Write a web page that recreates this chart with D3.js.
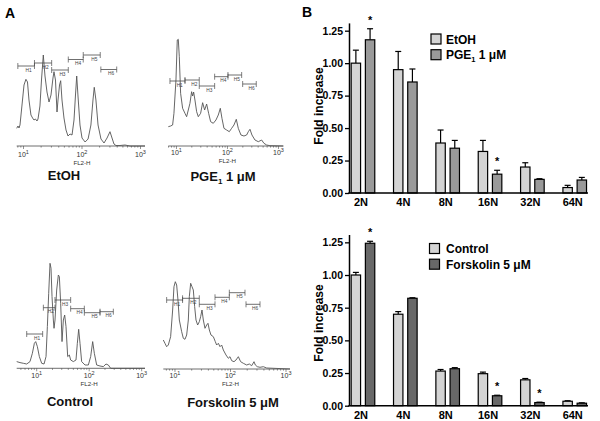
<!DOCTYPE html>
<html><head><meta charset="utf-8">
<script src="https://cdn.jsdelivr.net/npm/d3@7"></script>
<style>body{margin:0;background:#fff}svg{display:block}text{font-family:"Liberation Sans",Arial,Helvetica,sans-serif}</style>
</head><body><svg id="c" width="600" height="421"></svg>
<script>
// ---------- Panel B data ----------
const categories = ["2N","4N","8N","16N","32N","64N"];
const etohMean = [1.00,0.95,0.385,0.32,0.20,0.042];
const etohErr  = [0.10,0.14,0.10,0.085,0.033,0.017];
const pgeMean  = [1.18,0.855,0.345,0.145,0.105,0.10];
const pgeErr   = [0.085,0.10,0.06,0.03,0.005,0.02];
const pgeSig   = [true,false,false,true,false,false];
const controlMean   = [1.00,0.70,0.265,0.245,0.198,0.034];
const controlErr    = [0.02,0.02,0.012,0.012,0.01,0.004];
const forskolinMean = [1.243,0.822,0.283,0.076,0.024,0.019];
const forskolinErr  = [0.015,0.004,0.008,0.004,0.003,0.003];
const forskolinSig  = [true,false,false,true,true,false];
const yTickValues = [0,0.25,0.5,0.75,1.0,1.25];

// ---------- Panel A data (FL2-H value, relative count) ----------
const etohFL2 = [7.65,8.05,8.38,8.71,9.43,10.2,11.0,11.7,12.4,13.4,14.3,15.1,16.0,17.0,17.7,19.1,20.3,21.8,23.3,25.2,27.3,29.5,31.9,33.2,35.2,37.4,38.9,41.3,43.2,45.5,49.2,53.3,57.6,62.4,67.5,73.0,77.4,81.2,85.4,92.4,100,113,127,142,154,162,173,188,211,238,268,301,326,352,381,446,543,662,1194];
const etohCount = [17.7,20,18,21,41,61,66.7,64,46,31,28,26,27,25,27,40,66,91,70,54,44,51,68,74.3,66,34,46,61,65.3,46,28,16,10,12,11,26,51,70,50,21,8,4,7,21,46,58.7,46,21,7,3,8,14.3,8,2,0.5,0.5,1,0,0];
const pgeFL2 = [6.92,7.69,8.41,8.93,9.78,10.38,10.86,11.37,12.07,13.21,14.68,15.82,17.06,18.39,19.83,20.75,21.71,23.05,24.86,26.8,29.78,32.6,35.68,39.04,42.73,46.77,52.76,59.5,66.1,72.4,78.0,85.4,96.3,108.6,120.7,134.1,149,163.1,184,210.6,237.6,256.2,276.3,302.3,346.1,402.4,467.7,519.6,586,681.4,1244];
const pgeCount = [19.3,20,21,32.7,66,106,106.7,89.3,52.7,37.7,32.7,29.3,36,42.7,54.3,50,54,46,34.3,29.3,32.7,43.3,36,42,32.7,24.3,22.7,26,31,37.7,27.7,17.7,16,14.3,17.7,21,26.7,17.7,11,10,11,14.3,16.7,11,6,4.3,6,2.7,1,0.3,0];
const controlFL2 = [4.16,4.81,5.57,6.45,7.46,8.27,9.03,9.57,10.30,11.24,12.45,13.8,15.06,15.97,16.93,17.95,18.75,19.60,20.77,21.39,22.35,24.04,25.86,27.02,28.65,30.38,32.2,34.15,36.2,38.95,41.9,44.4,49.9,56.1,59.5,63.1,66.9,71.9,83.3,96.4,106.8,116.6,125.4,139,160.8,186.2,209.3,231.8,256.8,1158];
const controlCount = [6.7,5.7,5,4.3,6.7,15,25,26.7,21.7,11.7,5,4.3,11.7,41.7,75,105,100,71.7,48.3,40,48.3,78.3,93.3,91.7,65,26.7,48.3,53.3,41.7,11.7,13.3,8.3,6.7,8.3,25,39,25,6.7,3.3,3.3,11.7,26.7,15,3.3,2.3,1.7,4.3,3.3,0,0];
const forskFL2 = [6.16,6.60,7.08,7.58,8.35,9.08,9.59,10.14,10.72,11.32,11.97,13.19,14.13,15.14,16.23,17.39,18.13,19.16,20.25,21.4,22.62,23.9,25.61,27.44,29.0,30.65,32.4,34.72,37.2,39.3,41.6,44.5,49.1,53.3,56.3,60.4,64.7,69.3,74.3,83.0,91.4,97.9,105,115.6,125.6,138.4,152.4,170.3,195.6,218.4,240.6,265.1,280.2,304.4,340.1,390.5,448.5,1180];
const forskCount = [29,25.7,22.3,24,32.3,59,82.3,87.3,84,69,49,37.3,30.7,29.7,34,49,72.3,85.7,82.3,79,62.3,49,44,47.3,52.3,59,49,40.7,44,45.7,39,34,32.3,27.3,24,25.7,22.3,24,19,14,10.7,12.3,8.3,7.3,9,12.3,7.3,5.7,4,5,3.3,7.3,4,2.3,1.7,2.3,1,0];

const gateNames = ["H1","H2","H3","H4","H5","H6"];
const etohGateLo = [8.0,15.4,30.3,58.3,105,210];
const etohGateHi = [15.4,30.3,58.3,105,205,392];
const etohGateLevel = [80,83,76,86.5,91,76.5];
const pgeGateLo = [7.46,14.7,28.0,56.1,102.3,198.6];
const pgeGateHi = [14.7,28.0,56.1,102.3,189.9,367];
const pgeGateLevel = [65,66,60,69.3,71,62];
const controlGateLo = [6.45,13.4,22.3,44.4,80.9,160.8];
const controlGateHi = [13.0,22.3,44.4,80.9,160.8,288.6];
const controlGateLevel = [34.3,60.6,68.3,59.6,55.6,56.6];
const forskGateLo = [7.08,13.7,27.4,52.6,95.3,190.3];
const forskGateHi = [13.7,27.4,52.6,95.3,182.5,340];
const forskGateLevel = [69,70.7,64.7,71.7,76.3,64.7];

const svg = d3.select("#c");

// ---------- Panel A: histograms ----------
function histogram(cfg) {
  const x = d3.scaleLog().domain(cfg.domain).range([cfg.x0, cfg.x1]);
  const y = d3.scaleLinear().domain([0, 100]).range([cfg.base, cfg.base - 100]);
  const g = svg.append("g");
  const ink = "#4a4a4a";
  g.append("line").attr("x1", cfg.x0).attr("x2", cfg.x1).attr("y1", cfg.base).attr("y2", cfg.base)
    .attr("stroke", ink).attr("stroke-width", 0.8);
  [1, 10, 100, 1000].forEach(dec => {
    for (let m = 1; m <= 9; m++) {
      const v = dec * m;
      if (v < cfg.domain[0] || v > cfg.domain[1]) continue;
      g.append("line").attr("x1", x(v)).attr("x2", x(v)).attr("y1", cfg.base)
        .attr("y2", cfg.base + (m === 1 ? 3 : 1.6)).attr("stroke", ink).attr("stroke-width", 0.6);
    }
  });
  [[10, "1"], [100, "2"], [1000, "3"]].forEach(([v, e]) => {
    const t = g.append("text").attr("x", x(v)).attr("y", cfg.labelY).attr("text-anchor", "middle")
      .attr("font-size", 7).attr("fill", "#333");
    t.append("tspan").text("10");
    t.append("tspan").attr("dy", -3).attr("font-size", 5.5).text(e);
  });
  g.append("text").attr("x", x(100)).attr("y", cfg.fl2Y).attr("text-anchor", "middle")
    .attr("font-size", 6.2).attr("fill", "#333").text("FL2-H");
  const line = d3.line().x(d => x(d[0])).y(d => y(d[1]));
  g.append("path").datum(d3.zip(cfg.fl2, cfg.count)).attr("d", line)
    .attr("fill", "none").attr("stroke", "#555").attr("stroke-width", 0.9).attr("stroke-linejoin", "round");
  gateNames.forEach((n, i) => {
    const a = x(cfg.gLo[i]), b = x(cfg.gHi[i]), yy = y(cfg.gLevel[i]);
    g.append("line").attr("x1", a).attr("x2", b).attr("y1", yy).attr("y2", yy).attr("stroke", ink).attr("stroke-width", 0.8);
    [a, b].forEach(px => g.append("line").attr("x1", px).attr("x2", px).attr("y1", yy - 3).attr("y2", yy + 3)
      .attr("stroke", ink).attr("stroke-width", 0.7));
    g.append("text").attr("x", a + (b - a) * 0.65).attr("y", yy + 5.5).attr("text-anchor", "middle")
      .attr("font-size", 4.8).attr("fill", "#444").text(n);
  });
  const t = svg.append("text").attr("x", cfg.titleX).attr("y", cfg.titleY).attr("text-anchor", "middle")
    .attr("font-size", 13).attr("font-weight", "bold").attr("fill", "#111");
  cfg.title.forEach(p => {
    const s = t.append("tspan").text(p.t);
    if (p.sub) s.attr("font-size", 8).attr("dy", 3);
    if (p.back) s.attr("dy", -3);
  });
}

histogram({domain: [7.65, 1194], x0: 16.7, x1: 145, base: 146, labelY: 157, fl2Y: 165,
  fl2: etohFL2, count: etohCount, gLo: etohGateLo, gHi: etohGateHi, gLevel: etohGateLevel,
  titleX: 64, titleY: 180, title: [{t: "EtOH"}]});
histogram({domain: [6.92, 1244], x0: 168.3, x1: 283.3, base: 146, labelY: 155, fl2Y: 162.5,
  fl2: pgeFL2, count: pgeCount, gLo: pgeGateLo, gHi: pgeGateHi, gLevel: pgeGateLevel,
  titleX: 223, titleY: 181, title: [{t: "PGE"}, {t: "1", sub: true}, {t: " 1 μM", back: true}]});
histogram({domain: [4.16, 1158], x0: 16.7, x1: 145, base: 368.3, labelY: 378, fl2Y: 386,
  fl2: controlFL2, count: controlCount, gLo: controlGateLo, gHi: controlGateHi, gLevel: controlGateLevel,
  titleX: 70, titleY: 406, title: [{t: "Control"}]});
histogram({domain: [6.16, 1180], x0: 163.3, x1: 290, base: 369, labelY: 377.5, fl2Y: 385.7,
  fl2: forskFL2, count: forskCount, gLo: forskGateLo, gHi: forskGateHi, gLevel: forskGateLevel,
  titleX: 233, titleY: 407, title: [{t: "Forskolin 5 μM"}]});

// ---------- Panel B: bar charts ----------
function barChart(cfg) {
  const x = d3.scaleBand().domain(categories).range([341.8, 595.9]);
  const sub = d3.scaleBand().domain([0, 1]).range([-11.8, 11.8]).paddingInner(0.338);
  const y = d3.scaleLinear().domain([0, 1.31]).range([cfg.base, cfg.top]);
  const g = svg.append("g");
  const series = [
    {mean: cfg.aMean, err: cfg.aErr, fill: "#d4d4d4", sig: null},
    {mean: cfg.bMean, err: cfg.bErr, fill: cfg.bFill, sig: cfg.bSig}
  ];
  series.forEach((s, si) => {
    categories.forEach((c, i) => {
      const cx = x(c) + x.bandwidth() / 2;
      const x0 = cx + sub(si), w = sub.bandwidth(), mid = x0 + w / 2;
      const top = y(s.mean[i]), et = y(s.mean[i] + s.err[i]);
      g.append("line").attr("x1", mid).attr("x2", mid).attr("y1", top).attr("y2", et).attr("stroke", "#000").attr("stroke-width", 1.2);
      g.append("line").attr("x1", mid - 3).attr("x2", mid + 3).attr("y1", et).attr("y2", et).attr("stroke", "#000").attr("stroke-width", 1.2);
      g.append("rect").attr("x", x0).attr("y", top).attr("width", w).attr("height", y(0) - top)
        .attr("fill", s.fill).attr("stroke", "#000").attr("stroke-width", 1.2);
      if (s.sig && s.sig[i]) {
        g.append("text").attr("x", mid).attr("y", et - 5).attr("text-anchor", "middle")
          .attr("font-size", 11).attr("font-weight", "bold").text("*");
      }
    });
  });
  const ax = g.append("g").attr("transform", "translate(349,0)")
    .call(d3.axisLeft(y).tickValues(yTickValues).tickFormat(d3.format(".2f")).tickSize(4).tickSizeOuter(0).tickPadding(2));
  ax.select(".domain").attr("stroke", "#000").attr("stroke-width", 1.5);
  ax.selectAll(".tick line").attr("stroke", "#000").attr("stroke-width", 1.3);
  ax.selectAll(".tick text").attr("font-size", 10.5).attr("font-weight", "bold").attr("fill", "#000")
    .attr("font-family", '"Liberation Sans",Arial,sans-serif');
  g.append("line").attr("x1", 348.3).attr("x2", 588).attr("y1", y(0)).attr("y2", y(0)).attr("stroke", "#000").attr("stroke-width", 1.5);
  categories.forEach(c => {
    g.append("text").attr("x", x(c) + x.bandwidth() / 2 - 2).attr("y", cfg.base + 13).attr("text-anchor", "middle")
      .attr("font-size", 11).attr("font-weight", "bold").text(c);
  });
  g.append("text").attr("transform", `translate(323,${cfg.labelY}) rotate(-90)`).attr("text-anchor", "middle")
    .attr("font-size", 12).attr("font-weight", "bold").text("Fold increase");
  cfg.legend.forEach((L, i) => {
    g.append("rect").attr("x", cfg.legX).attr("y", cfg.legY + i * 15.7).attr("width", 10).attr("height", 10)
      .attr("fill", i ? cfg.bFill : "#d4d4d4").attr("stroke", "#000").attr("stroke-width", 1.2);
    const t = g.append("text").attr("x", 446).attr("y", cfg.legY + 9.5 + i * 15.7).attr("font-size", 12).attr("font-weight", "bold");
    L.forEach(p => {
      const s = t.append("tspan").text(p.t);
      if (p.sub) s.attr("font-size", 7.5).attr("dy", 3);
      if (p.back) s.attr("dy", -3);
    });
  });
}

barChart({base: 193, top: 22.9, aMean: etohMean, aErr: etohErr, bMean: pgeMean, bErr: pgeErr, bSig: pgeSig,
  bFill: "#9a9a9a", labelY: 106, legX: 431, legY: 34,
  legend: [[{t: "EtOH"}], [{t: "PGE"}, {t: "1", sub: true}, {t: " 1 μM", back: true}]]});
barChart({base: 405.7, top: 234.5, aMean: controlMean, aErr: controlErr, bMean: forskolinMean, bErr: forskolinErr, bSig: forskolinSig,
  bFill: "#686868", labelY: 323, legX: 429.5, legY: 243.5,
  legend: [[{t: "Control"}], [{t: "Forskolin 5 μM"}]]});

svg.append("text").attr("x", 5).attr("y", 18).attr("font-size", 14).attr("font-weight", "bold").text("A");
svg.append("text").attr("x", 302).attr("y", 17).attr("font-size", 14).attr("font-weight", "bold").text("B");
</script></body></html>
